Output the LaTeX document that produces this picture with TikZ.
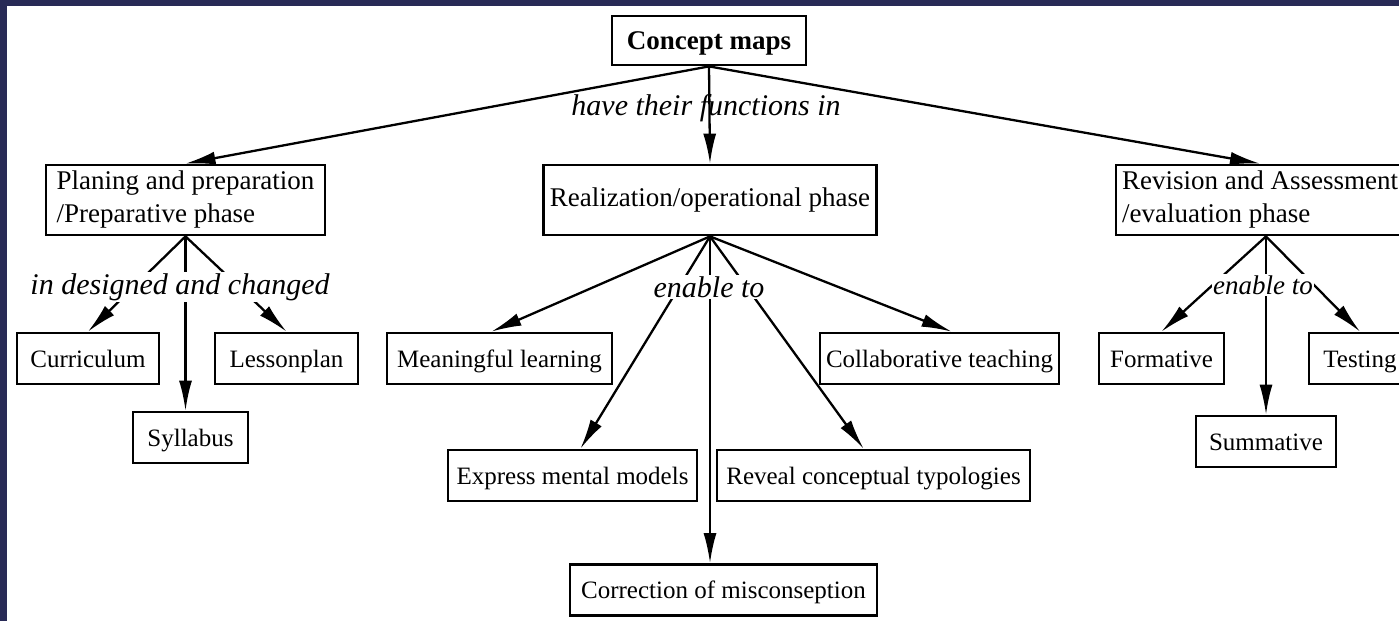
\documentclass[tikz,border=0pt]{standalone}
\usepackage{fontspec}
\setmainfont{Liberation Serif}
\usetikzlibrary{arrows.meta,positioning}

\definecolor{framenavy}{RGB}{40,42,86}

\tikzset{
    frame/.style={draw, line width=2.8pt, inner xsep=6pt, inner ysep=4pt},
    box/.style={frame, minimum height=51pt, text height=17pt, text depth=0pt,
        font=\fontsize{25}{32}\selectfont},
    phase/.style={frame, minimum height=70pt, align=left,
        font=\fontsize{27}{33}\selectfont},
    lbl/.style={inner sep=1pt, font=\fontsize{30}{34}\selectfont\itshape},
    link/.style={line width=2.3pt, -{Latex[length=30pt,width=13pt]}}
}

\begin{document}
\begin{tikzpicture}[x=1pt,y=-1pt]
    % page and frame
    \useasboundingbox (0,0) rectangle (1399,621);
    \fill[white] (0,0) rectangle (1399,621);
    \fill[framenavy] (0,0) rectangle (1399,6);
    \fill[framenavy] (0,0) rectangle (7,621);

    % root
    \node[box, minimum width=194pt, minimum height=49pt,
        font=\fontsize{27}{32}\selectfont\bfseries] (maps) at (709,40.5) {Concept maps};

    % phases
    \node[phase, minimum width=279pt] (plan) at (185.5,200)
        {Planing and preparation\\/Preparative phase};
    \node[phase, minimum width=333pt] (real) at (710,200)
        {Realization/operational phase};
    \node[phase, minimum width=288pt] (revi) at (1260,200)
        {Revision and Assessment\\/evaluation phase};

    % planing children
    \node[box, minimum width=142pt] (curr) at (88,358.5) {Curriculum};
    \node[box, minimum width=143pt] (lesson) at (286.5,358.5) {Lessonplan};
    \node[box, minimum width=115pt] (sylla) at (190.5,437.5) {Syllabus};

    % realization children
    \node[box, minimum width=225pt] (mean) at (499.5,358.5) {Meaningful learning};
    \node[box, minimum width=235pt] (collab) at (939.5,358.5) {Collaborative teaching};
    \node[box, minimum width=249pt] (express) at (572.5,475.5) {Express mental models};
    \node[box, minimum width=313pt] (reveal) at (873.5,475.5) {Reveal conceptual typologies};
    \node[box, minimum width=307pt] (correct) at (723.5,590) {Correction of misconseption};

    % revision children
    \node[box, minimum width=125pt] (form) at (1161.5,358.5) {Formative};
    \node[box, minimum width=102pt] (test) at (1360,358.5) {Testing};
    \node[box, minimum width=140pt] (summ) at (1266,441.5) {Summative};

    % links
    \draw[link] (maps.south) -- (plan.north);
    \draw[link] (maps.south) -- (real.north);
    \draw[link] (maps.south) -- (revi.north);

    \draw[link] (plan.south) -- (curr.north);
    \draw[link] (plan.south) -- (plan.south |- sylla.north);
    \draw[link] (plan.south) -- (lesson.north);

    \draw[link] (real.south) -- ([xshift=-8pt]mean.north);
    \draw[link] (real.south) -- ([xshift=8pt]express.north);
    \draw[link] (real.south) -- (real.south |- correct.north);
    \draw[link] (real.south) -- ([xshift=-10pt]reveal.north);
    \draw[link] (real.south) -- ([xshift=12pt]collab.north);

    \draw[link] ([xshift=6pt]revi.south) -- (form.north);
    \draw[link] ([xshift=6pt]revi.south) -- (summ.north);
    \draw[link] ([xshift=6pt]revi.south) -- (test.north);

    % link labels
    \node[lbl] (lblmaps) at (706,108) {have their functions in};
    \node[lbl, fill=white] (lblplan) at (180,287) {in designed and changed};
    \node[lbl, fill=white] (lblreal) at (709,287) {enable to};
    \node[lbl, fill=white, font=\fontsize{27}{32}\selectfont\itshape] (lblrevi) at (1263,285) {enable to};
\end{tikzpicture}
\end{document}
